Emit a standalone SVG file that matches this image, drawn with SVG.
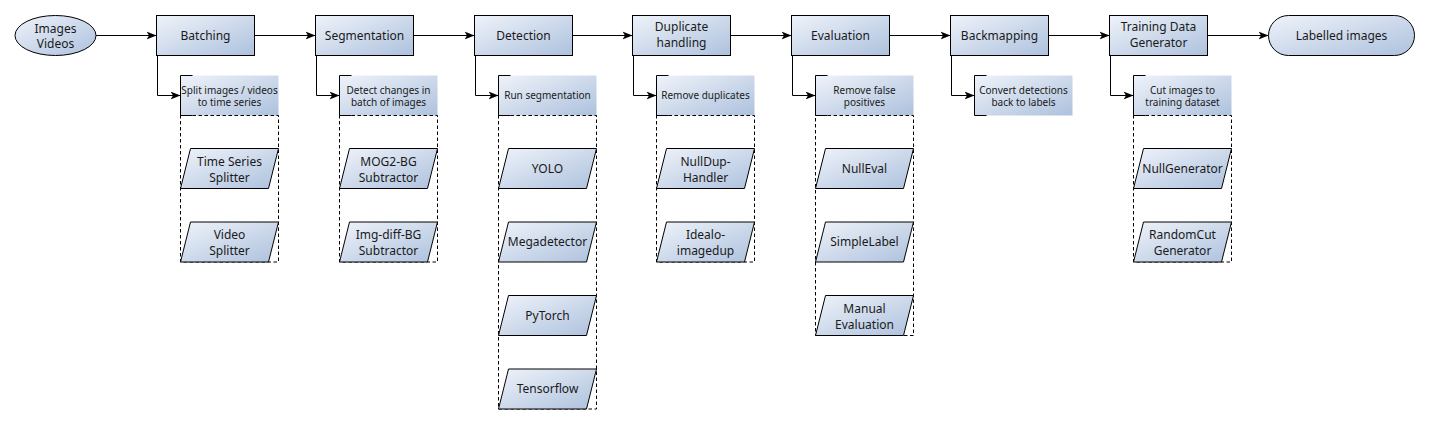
<svg xmlns="http://www.w3.org/2000/svg" width="1429" height="424" viewBox="0 0 1429 424">
<defs>
<linearGradient id="g" x1="0" y1="0" x2="1" y2="1">
<stop offset="0" stop-color="#eff3fa"/>
<stop offset="1" stop-color="#adc1dd"/>
</linearGradient>
<marker id="arr" markerWidth="11" markerHeight="9" refX="10" refY="4.5" orient="auto" markerUnits="userSpaceOnUse">
<path d="M0,0.5 L10,4.5 L0,8.5 L2.5,4.5 Z" fill="#000"/>
</marker>
</defs>
<style>
.box{fill:url(#g);stroke:#000;stroke-width:1}
.ann{fill:url(#g);stroke:none}
.br{fill:none;stroke:#000;stroke-width:1}
.cont{fill:none;stroke:#000;stroke-width:1;stroke-dasharray:3.5 2.5}
.e{fill:none;stroke:#000;stroke-width:1;marker-end:url(#arr)}
text{font-family:"Noto Sans","Open Sans","DejaVu Sans",sans-serif;fill:#1a1a1a;text-anchor:middle}
.t12{font-size:12px}
.t10{font-size:10px}
</style>
<g id="connectors">
<path class="e" d="M96,35.5 H156.5"/>
<path class="e" d="M254.5,35.5 H315.5"/>
<path class="e" d="M413.5,35.5 H474.5"/>
<path class="e" d="M572.5,35.5 H632.5"/>
<path class="e" d="M730.5,35.5 H791.5"/>
<path class="e" d="M889.5,35.5 H950.5"/>
<path class="e" d="M1048.5,35.5 H1109.5"/>
<path class="e" d="M1207.5,35.5 H1268.5"/>
<path class="e" d="M157.5,55.5 V95.5 H180.5"/>
<path class="e" d="M316.5,55.5 V95.5 H339.5"/>
<path class="e" d="M475.5,55.5 V95.5 H498.5"/>
<path class="e" d="M633.5,55.5 V95.5 H656.5"/>
<path class="e" d="M792.5,55.5 V95.5 H815.5"/>
<path class="e" d="M951.5,55.5 V95.5 H974.5"/>
<path class="e" d="M1110.5,55.5 V95.5 H1133.5"/>
</g>
<g id="start">
<ellipse class="box" cx="55.5" cy="35.5" rx="40.5" ry="20"/>
<text class="t12" x="55.5" y="32.5">Images</text>
<text class="t12" x="55.5" y="48">Videos</text>
</g>
<g id="end">
<rect class="box" x="1268.5" y="15.5" width="146" height="40" rx="20" ry="20"/>
<text class="t12" x="1341.5" y="40">Labelled images</text>
</g>
<g id="batching">
<rect class="box" x="156.5" y="15.5" width="98" height="40"/>
<text class="t12" x="205.5" y="40">Batching</text>
</g>
<g id="batching-note">
<rect class="ann" x="180.5" y="75.5" width="98" height="40"/>
<path class="br" d="M192.5,75.5 H180.5 V115.5 H192.5"/>
<text class="t10" x="229.5" y="93.5">Split images / videos</text>
<text class="t10" x="229.5" y="106">to time series</text>
</g>
<g id="batching-impl">
<rect class="cont" x="180.5" y="115.5" width="98" height="146.5"/>
<g id="time-series-splitter">
<polygon class="box" points="190.5,148.5 278.5,148.5 268.5,188.5 180.5,188.5"/>
<text class="t12" x="229.5" y="165.5">Time Series</text>
<text class="t12" x="229.5" y="181.5">Splitter</text>
</g>
<g id="video-splitter">
<polygon class="box" points="190.5,222 278.5,222 268.5,262 180.5,262"/>
<text class="t12" x="229.5" y="239">Video</text>
<text class="t12" x="229.5" y="255">Splitter</text>
</g>
</g>
<g id="segmentation">
<rect class="box" x="315.5" y="15.5" width="98" height="40"/>
<text class="t12" x="364.5" y="40">Segmentation</text>
</g>
<g id="segmentation-note">
<rect class="ann" x="339.5" y="75.5" width="98" height="40"/>
<path class="br" d="M351.5,75.5 H339.5 V115.5 H351.5"/>
<text class="t10" x="388.5" y="93.5">Detect changes in</text>
<text class="t10" x="388.5" y="106">batch of images</text>
</g>
<g id="segmentation-impl">
<rect class="cont" x="339.5" y="115.5" width="98" height="146.5"/>
<g id="mog2">
<polygon class="box" points="349.5,148.5 437.5,148.5 427.5,188.5 339.5,188.5"/>
<text class="t12" x="388.5" y="165.5">MOG2-BG</text>
<text class="t12" x="388.5" y="181.5">Subtractor</text>
</g>
<g id="imgdiff">
<polygon class="box" points="349.5,222 437.5,222 427.5,262 339.5,262"/>
<text class="t12" x="388.5" y="239">Img-diff-BG</text>
<text class="t12" x="388.5" y="255">Subtractor</text>
</g>
</g>
<g id="detection">
<rect class="box" x="474.5" y="15.5" width="98" height="40"/>
<text class="t12" x="523.5" y="40">Detection</text>
</g>
<g id="detection-note">
<rect class="ann" x="498.5" y="75.5" width="98" height="40"/>
<path class="br" d="M510.5,75.5 H498.5 V115.5 H510.5"/>
<text class="t10" x="547.5" y="99">Run segmentation</text>
</g>
<g id="detection-impl">
<rect class="cont" x="498.5" y="115.5" width="98" height="293.5"/>
<g id="yolo">
<polygon class="box" points="508.5,148.5 596.5,148.5 586.5,188.5 498.5,188.5"/>
<text class="t12" x="547.5" y="172.8">YOLO</text>
</g>
<g id="megadetector">
<polygon class="box" points="508.5,222 596.5,222 586.5,262 498.5,262"/>
<text class="t12" x="547.5" y="246.3">Megadetector</text>
</g>
<g id="pytorch">
<polygon class="box" points="508.5,295.5 596.5,295.5 586.5,335.5 498.5,335.5"/>
<text class="t12" x="547.5" y="319.8">PyTorch</text>
</g>
<g id="tensorflow">
<polygon class="box" points="508.5,369 596.5,369 586.5,409 498.5,409"/>
<text class="t12" x="547.5" y="393.3">Tensorflow</text>
</g>
</g>
<g id="duplicate">
<rect class="box" x="632.5" y="15.5" width="98" height="40"/>
<text class="t12" x="681.5" y="31">Duplicate</text>
<text class="t12" x="681.5" y="47">handling</text>
</g>
<g id="duplicate-note">
<rect class="ann" x="656.5" y="75.5" width="98" height="40"/>
<path class="br" d="M668.5,75.5 H656.5 V115.5 H668.5"/>
<text class="t10" x="705.5" y="99">Remove duplicates</text>
</g>
<g id="duplicate-impl">
<rect class="cont" x="656.5" y="115.5" width="98" height="146.5"/>
<g id="nulldup">
<polygon class="box" points="666.5,148.5 754.5,148.5 744.5,188.5 656.5,188.5"/>
<text class="t12" x="705.5" y="165.5">NullDup-</text>
<text class="t12" x="705.5" y="181.5">Handler</text>
</g>
<g id="idealo">
<polygon class="box" points="666.5,222 754.5,222 744.5,262 656.5,262"/>
<text class="t12" x="705.5" y="239">Idealo-</text>
<text class="t12" x="705.5" y="255">imagedup</text>
</g>
</g>
<g id="evaluation">
<rect class="box" x="791.5" y="15.5" width="98" height="40"/>
<text class="t12" x="840.5" y="40">Evaluation</text>
</g>
<g id="evaluation-note">
<rect class="ann" x="815.5" y="75.5" width="98" height="40"/>
<path class="br" d="M827.5,75.5 H815.5 V115.5 H827.5"/>
<text class="t10" x="864.5" y="93.5">Remove false</text>
<text class="t10" x="864.5" y="106">positives</text>
</g>
<g id="evaluation-impl">
<rect class="cont" x="815.5" y="115.5" width="98" height="220"/>
<g id="nulleval">
<polygon class="box" points="825.5,148.5 913.5,148.5 903.5,188.5 815.5,188.5"/>
<text class="t12" x="864.5" y="172.8">NullEval</text>
</g>
<g id="simplelabel">
<polygon class="box" points="825.5,222 913.5,222 903.5,262 815.5,262"/>
<text class="t12" x="864.5" y="246.3">SimpleLabel</text>
</g>
<g id="manual">
<polygon class="box" points="825.5,295.5 913.5,295.5 903.5,335.5 815.5,335.5"/>
<text class="t12" x="864.5" y="312.5">Manual</text>
<text class="t12" x="864.5" y="328.5">Evaluation</text>
</g>
</g>
<g id="backmapping">
<rect class="box" x="950.5" y="15.5" width="98" height="40"/>
<text class="t12" x="999.5" y="40">Backmapping</text>
</g>
<g id="backmapping-note">
<rect class="ann" x="974.5" y="75.5" width="98" height="40"/>
<path class="br" d="M986.5,75.5 H974.5 V115.5 H986.5"/>
<text class="t10" x="1023.5" y="93.5">Convert detections</text>
<text class="t10" x="1023.5" y="106">back to labels</text>
</g>
<g id="generator">
<rect class="box" x="1109.5" y="15.5" width="98" height="40"/>
<text class="t12" x="1158.5" y="31">Training Data</text>
<text class="t12" x="1158.5" y="47">Generator</text>
</g>
<g id="generator-note">
<rect class="ann" x="1133.5" y="75.5" width="98" height="40"/>
<path class="br" d="M1145.5,75.5 H1133.5 V115.5 H1145.5"/>
<text class="t10" x="1182.5" y="93.5">Cut images to</text>
<text class="t10" x="1182.5" y="106">training dataset</text>
</g>
<g id="generator-impl">
<rect class="cont" x="1133.5" y="115.5" width="98" height="146.5"/>
<g id="nullgenerator">
<polygon class="box" points="1143.5,148.5 1231.5,148.5 1221.5,188.5 1133.5,188.5"/>
<text class="t12" x="1182.5" y="172.8">NullGenerator</text>
</g>
<g id="randomcut">
<polygon class="box" points="1143.5,222 1231.5,222 1221.5,262 1133.5,262"/>
<text class="t12" x="1182.5" y="239">RandomCut</text>
<text class="t12" x="1182.5" y="255">Generator</text>
</g>
</g>
</svg>
